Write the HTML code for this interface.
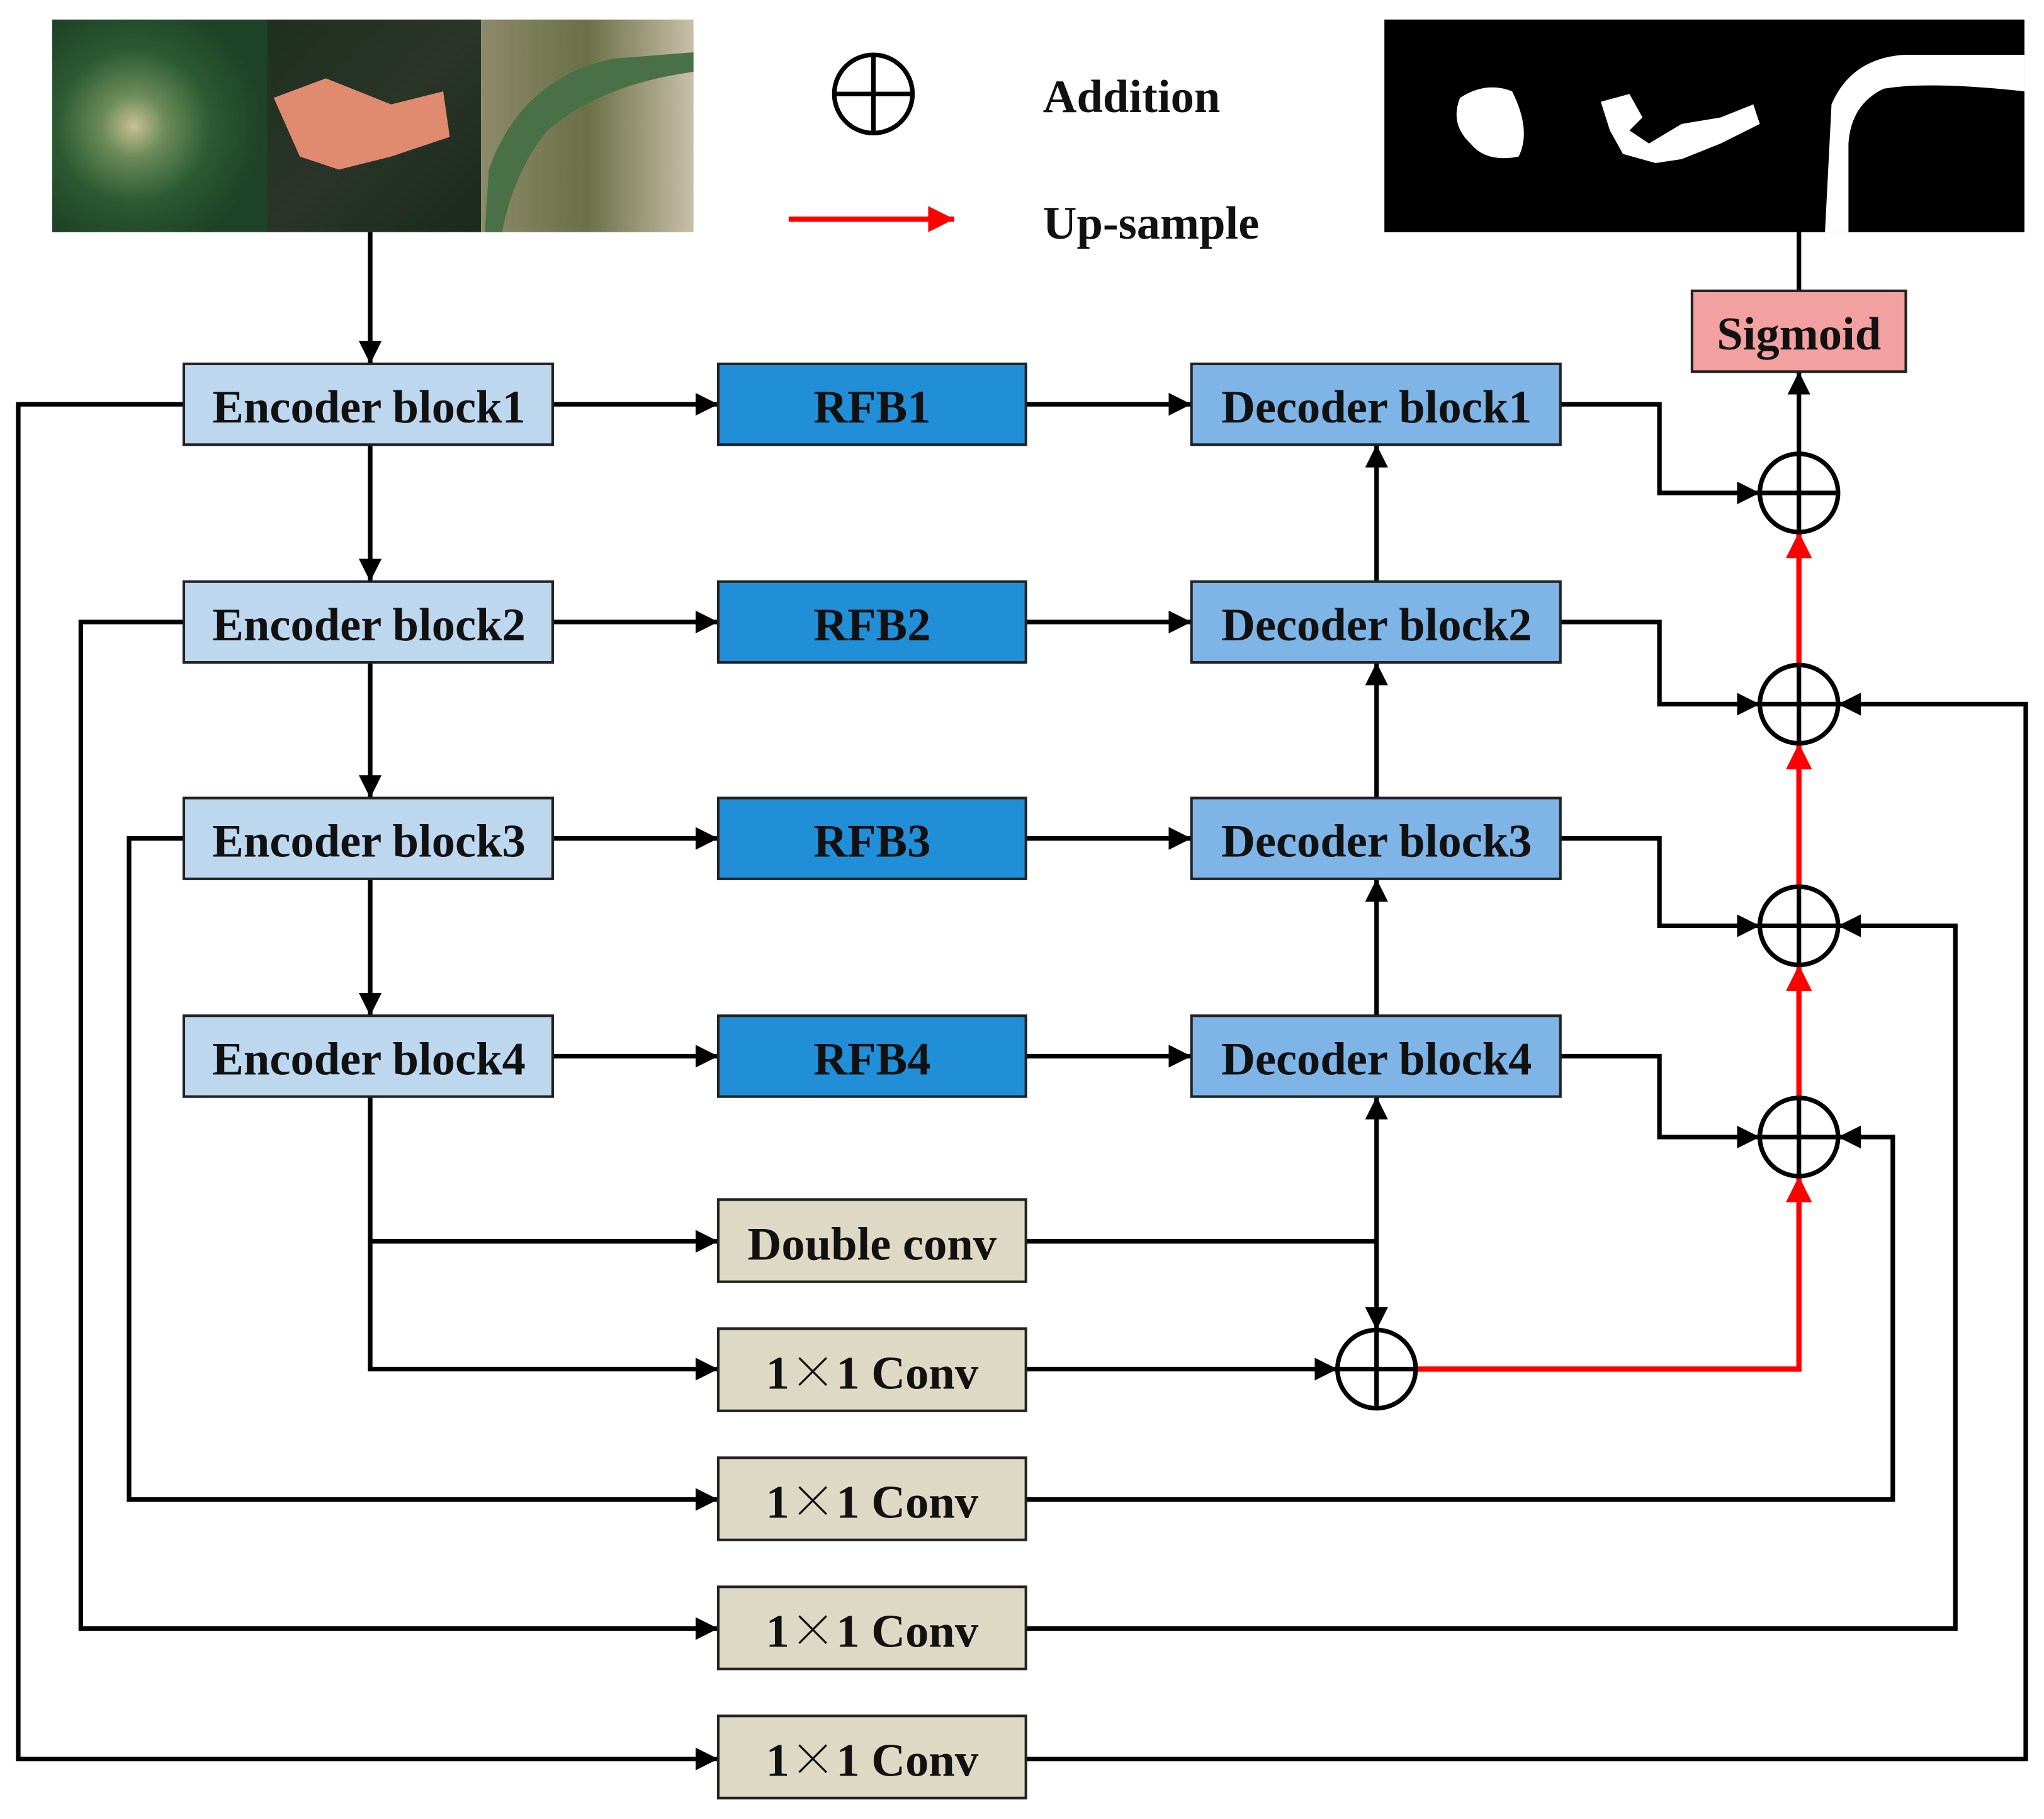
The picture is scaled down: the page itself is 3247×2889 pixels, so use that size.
<!DOCTYPE html>
<html><head><meta charset="utf-8"><style>
html,body{margin:0;padding:0;background:#fff}
svg{display:block}
text{font-family:"Liberation Serif","DejaVu Serif",serif;font-weight:bold;fill:#111}
.x{font-family:"Noto Serif CJK SC","Noto Sans CJK SC",serif;font-weight:normal}
</style></head><body>
<svg width="3247" height="2889" viewBox="0 0 1568 1395" xmlns="http://www.w3.org/2000/svg">
<defs>
<marker id="a" viewBox="0 0 10 10" refX="10" refY="5" markerWidth="5" markerHeight="5" orient="auto"><path d="M0,0L10,5L0,10z" fill="#000"/></marker>
<marker id="r" viewBox="0 0 10 10" refX="10" refY="5" markerWidth="5" markerHeight="5" orient="auto"><path d="M0,0L10,5L0,10z" fill="#f00"/></marker>
<radialGradient id="g1" cx="0.38" cy="0.5" r="0.6"><stop offset="0" stop-color="#c8c090"/><stop offset="0.25" stop-color="#6a8a5a"/><stop offset="0.6" stop-color="#2d5a32"/><stop offset="1" stop-color="#1e4226"/></radialGradient>
<linearGradient id="g2" x1="0" y1="0" x2="1" y2="1"><stop offset="0" stop-color="#1e3020"/><stop offset="0.5" stop-color="#2a3428"/><stop offset="1" stop-color="#1a2a1c"/></linearGradient>
<linearGradient id="g3" x1="0" y1="0" x2="1" y2="0"><stop offset="0" stop-color="#8c8a6a"/><stop offset="0.5" stop-color="#6a7048"/><stop offset="1" stop-color="#c8c0a8"/></linearGradient>
</defs>
<!-- images -->
<rect x="40" y="15" width="165" height="163" fill="url(#g1)"/>
<rect x="205" y="15" width="164" height="163" fill="url(#g2)"/>
<path d="M210,75 L250,60 L300,80 L340,70 L345,105 L300,120 L260,130 L230,120 Z" fill="#e08a70"/>
<rect x="369" y="15" width="163" height="163" fill="url(#g3)"/>
<path d="M375,130 Q400,60 470,45 L532,40 L532,55 Q460,65 420,100 Q395,130 385,178 L372,178 Z" fill="#4a7048"/>
<rect x="1062" y="15" width="491" height="163" fill="#000"/>
<path d="M1120,75 Q1140,62 1160,70 Q1175,100 1165,120 Q1140,125 1128,110 Q1112,95 1120,75Z" fill="#fff"/>
<path d="M1228,78 L1250,72 L1260,90 L1250,100 L1265,110 L1290,95 L1320,90 L1345,80 L1350,95 L1320,110 L1290,122 L1270,125 L1245,118 L1235,100Z" fill="#fff"/>
<path d="M1400,178 L1405,80 Q1420,45 1460,42 L1553,42 L1553,70 Q1480,62 1445,68 Q1420,80 1418,110 L1418,178Z" fill="#fff"/>
<!-- legend -->
<g fill="none" stroke="#000" stroke-width="3.5">
<circle cx="670" cy="72" r="30"/><path d="M640,72H700M670,42V102"/>
</g>
<path d="M605,168H732" stroke="#f00" stroke-width="4" marker-end="url(#r)"/>
<text x="800" y="86" font-size="36">Addition</text>
<text x="800" y="183" font-size="36">Up-sample</text>
<!-- connectors -->
<g fill="none" stroke="#000" stroke-width="3.5" marker-end="url(#a)">
<path d="M284,178V279"/>
<path d="M284,341V446"/><path d="M284,508V612"/><path d="M284,674V779"/>
<path d="M424,310H551"/><path d="M424,477H551"/><path d="M424,643H551"/><path d="M424,810H551"/>
<path d="M787,310H914"/><path d="M787,477H914"/><path d="M787,643H914"/><path d="M787,810H914"/>
<path d="M1056,446V341"/><path d="M1056,612V508"/><path d="M1056,779V674"/>
<path d="M1197,310H1273V378H1350"/><path d="M1197,477H1273V540H1350"/><path d="M1197,643H1273V710H1350"/><path d="M1197,810H1273V872H1350"/>
<path d="M1380,348V285"/>
<path d="M284,841V1050H551"/><path d="M284,952H551"/>
<path d="M1056,952V841"/><path d="M1056,952V1020"/>
<path d="M787,1050H1026"/>
<path d="M141,643H99V1150H551"/><path d="M141,477H62V1249H551"/><path d="M141,310H14V1349H551"/>
<path d="M787,1150H1452V872H1410"/><path d="M787,1249H1500V710H1410"/><path d="M787,1349H1554V540H1410"/>
</g>
<g fill="none" stroke="#000" stroke-width="3.5">
<path d="M1380,178V223"/><path d="M787,952H1056"/>
</g>
<g fill="none" stroke="#f00" stroke-width="4" marker-end="url(#r)">
<path d="M1380,842V740"/><path d="M1380,680V570"/><path d="M1380,510V408"/><path d="M1086,1050H1380V902"/>
</g>
<!-- plus circles -->
<g fill="none" stroke="#000" stroke-width="3.5">
<circle cx="1380" cy="378" r="30"/><path d="M1350,378H1410M1380,348V408"/>
<circle cx="1380" cy="540" r="30"/><path d="M1350,540H1410M1380,510V570"/>
<circle cx="1380" cy="710" r="30"/><path d="M1350,710H1410M1380,680V740"/>
<circle cx="1380" cy="872" r="30"/><path d="M1350,872H1410M1380,842V902"/>
<circle cx="1056" cy="1050" r="30"/><path d="M1026,1050H1086M1056,1020V1080"/>
</g>
<!-- boxes -->
<g stroke="#222" stroke-width="2">
<rect x="141" y="279" width="283" height="62" fill="#bdd7ee"/>
<rect x="141" y="446" width="283" height="62" fill="#bdd7ee"/>
<rect x="141" y="612" width="283" height="62" fill="#bdd7ee"/>
<rect x="141" y="779" width="283" height="62" fill="#bdd7ee"/>
<rect x="551" y="279" width="236" height="62" fill="#218fd8"/>
<rect x="551" y="446" width="236" height="62" fill="#218fd8"/>
<rect x="551" y="612" width="236" height="62" fill="#218fd8"/>
<rect x="551" y="779" width="236" height="62" fill="#218fd8"/>
<rect x="914" y="279" width="283" height="62" fill="#7fb4e6"/>
<rect x="914" y="446" width="283" height="62" fill="#7fb4e6"/>
<rect x="914" y="612" width="283" height="62" fill="#7fb4e6"/>
<rect x="914" y="779" width="283" height="62" fill="#7fb4e6"/>
<rect x="1298" y="223" width="164" height="62" fill="#f2a0a0"/>
<rect x="551" y="920" width="236" height="63" fill="#ddd9c4"/>
<rect x="551" y="1019" width="236" height="63" fill="#ddd9c4"/>
<rect x="551" y="1118" width="236" height="63" fill="#ddd9c4"/>
<rect x="551" y="1217" width="236" height="63" fill="#ddd9c4"/>
<rect x="551" y="1316" width="236" height="63" fill="#ddd9c4"/>
</g>
<g font-size="36" text-anchor="middle">
<text x="283" y="324">Encoder block1</text>
<text x="283" y="491">Encoder block2</text>
<text x="283" y="657">Encoder block3</text>
<text x="283" y="824">Encoder block4</text>
<text x="669" y="324">RFB1</text>
<text x="669" y="491">RFB2</text>
<text x="669" y="657">RFB3</text>
<text x="669" y="824">RFB4</text>
<text x="1056" y="324">Decoder block1</text>
<text x="1056" y="491">Decoder block2</text>
<text x="1056" y="657">Decoder block3</text>
<text x="1056" y="824">Decoder block4</text>
<text x="1380" y="268">Sigmoid</text>
<text x="669" y="966">Double conv</text>
<text x="669" y="1065">1<tspan class="x">×</tspan>1 Conv</text>
<text x="669" y="1164">1<tspan class="x">×</tspan>1 Conv</text>
<text x="669" y="1263">1<tspan class="x">×</tspan>1 Conv</text>
<text x="669" y="1362">1<tspan class="x">×</tspan>1 Conv</text>
</g>
</svg>
</body></html>
